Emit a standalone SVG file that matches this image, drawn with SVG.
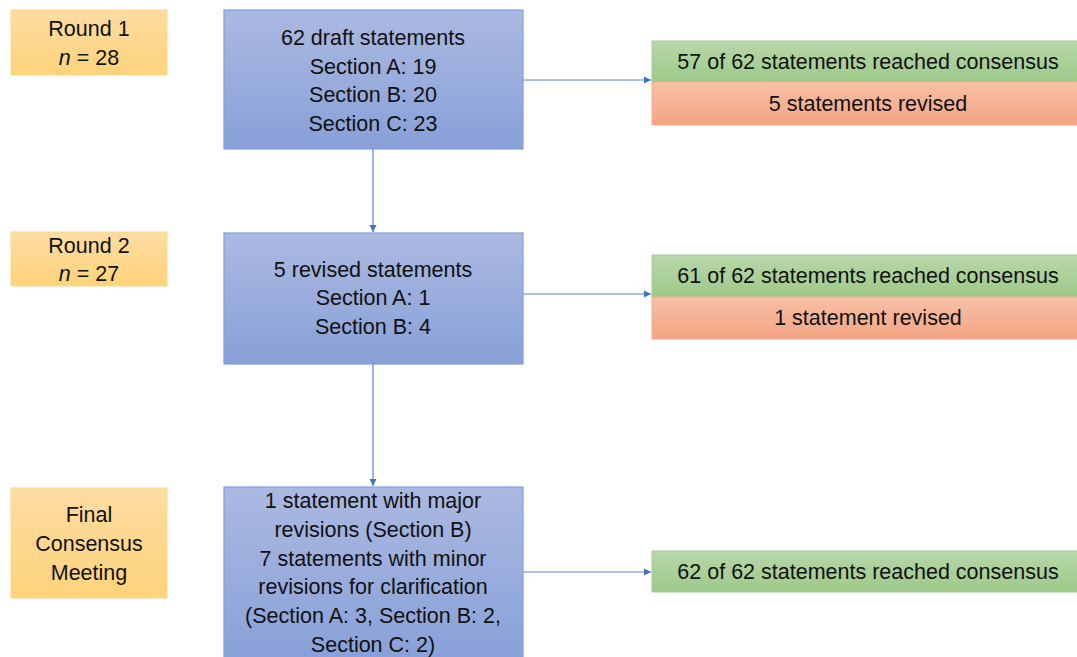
<svg xmlns="http://www.w3.org/2000/svg" width="1077" height="657" viewBox="0 0 1077 657">
<defs>
<linearGradient id="gBlue" x1="0" y1="0" x2="0" y2="1"><stop offset="0" stop-color="#abb9e1"/><stop offset="1" stop-color="#88a0d8"/></linearGradient>
<linearGradient id="gOrange" x1="0" y1="0" x2="0" y2="1"><stop offset="0" stop-color="#fedca2"/><stop offset="1" stop-color="#fdd37a"/></linearGradient>
<linearGradient id="gGreen" x1="0" y1="0" x2="0" y2="1"><stop offset="0" stop-color="#b7d7a9"/><stop offset="1" stop-color="#9ec989"/></linearGradient>
<linearGradient id="gRed" x1="0" y1="0" x2="0" y2="1"><stop offset="0" stop-color="#f7c0a7"/><stop offset="1" stop-color="#f4a483"/></linearGradient>
<marker id="arr" markerWidth="8" markerHeight="8" refX="7" refY="4" orient="auto" markerUnits="userSpaceOnUse"><path d="M0,0.5 L7,4 L0,7.5 Z" fill="#4472c4"/></marker>
</defs>
<style>
.blue{fill:url(#gBlue);stroke:#7f9fe0;stroke-width:1.2}
.orange{fill:url(#gOrange);stroke:#fbd88e;stroke-width:1}
.green{fill:url(#gGreen);stroke:#a6cc93;stroke-width:1}
.red{fill:url(#gRed);stroke:#f2ad8f;stroke-width:1}
text{font-family:"Liberation Sans",Arial,sans-serif;font-size:21.5px;fill:#111;text-anchor:middle}
.conn{stroke:#5b86d6;stroke-width:1.2;fill:none;marker-end:url(#arr)}
</style>
<g id="round1"><rect class="orange" x="11" y="10" width="156" height="65"/><text x="89" y="36">Round 1</text><text x="89" y="65"><tspan font-style="italic">n</tspan> = 28</text></g>
<g id="round2"><rect class="orange" x="11" y="232" width="156" height="54"/><text x="89" y="253">Round 2</text><text x="89" y="281"><tspan font-style="italic">n</tspan> = 27</text></g>
<g id="final"><rect class="orange" x="11" y="488" width="156" height="110"/><text x="89" y="522">Final</text><text x="89" y="551">Consensus</text><text x="89" y="580">Meeting</text></g>
<g id="box1"><rect class="blue" x="224" y="10" width="299" height="139"/><text x="373" y="45">62 draft statements</text><text x="373" y="74">Section A: 19</text><text x="373" y="102">Section B: 20</text><text x="373" y="131">Section C: 23</text></g>
<g id="box2"><rect class="blue" x="224" y="233" width="299" height="131"/><text x="373" y="277">5 revised statements</text><text x="373" y="305">Section A: 1</text><text x="373" y="334">Section B: 4</text></g>
<g id="box3"><rect class="blue" x="224" y="487" width="299" height="175"/><text x="373" y="508">1 statement with major</text><text x="373" y="537">revisions (Section B)</text><text x="373" y="566">7 statements with minor</text><text x="373" y="594">revisions for clarification</text><text x="373" y="623">(Section A: 3, Section B: 2,</text><text x="373" y="652">Section C: 2)</text></g>
<g id="res1"><rect class="green" x="652" y="41" width="430" height="41"/><text x="868" y="69">57 of 62 statements reached consensus</text><rect class="red" x="652" y="82" width="430" height="43"/><text x="868" y="111">5 statements revised</text></g>
<g id="res2"><rect class="green" x="652" y="255" width="430" height="42"/><text x="868" y="283">61 of 62 statements reached consensus</text><rect class="red" x="652" y="297" width="430" height="42"/><text x="868" y="325">1 statement revised</text></g>
<g id="res3"><rect class="green" x="652" y="551" width="430" height="41"/><text x="868" y="579">62 of 62 statements reached consensus</text></g>
<g id="connectors">
<path class="conn" d="M523,80 H651"/>
<path class="conn" d="M373,149 V232"/>
<path class="conn" d="M523,294 H651"/>
<path class="conn" d="M373,364 V486"/>
<path class="conn" d="M523,572 H651"/>
</g>
</svg>
